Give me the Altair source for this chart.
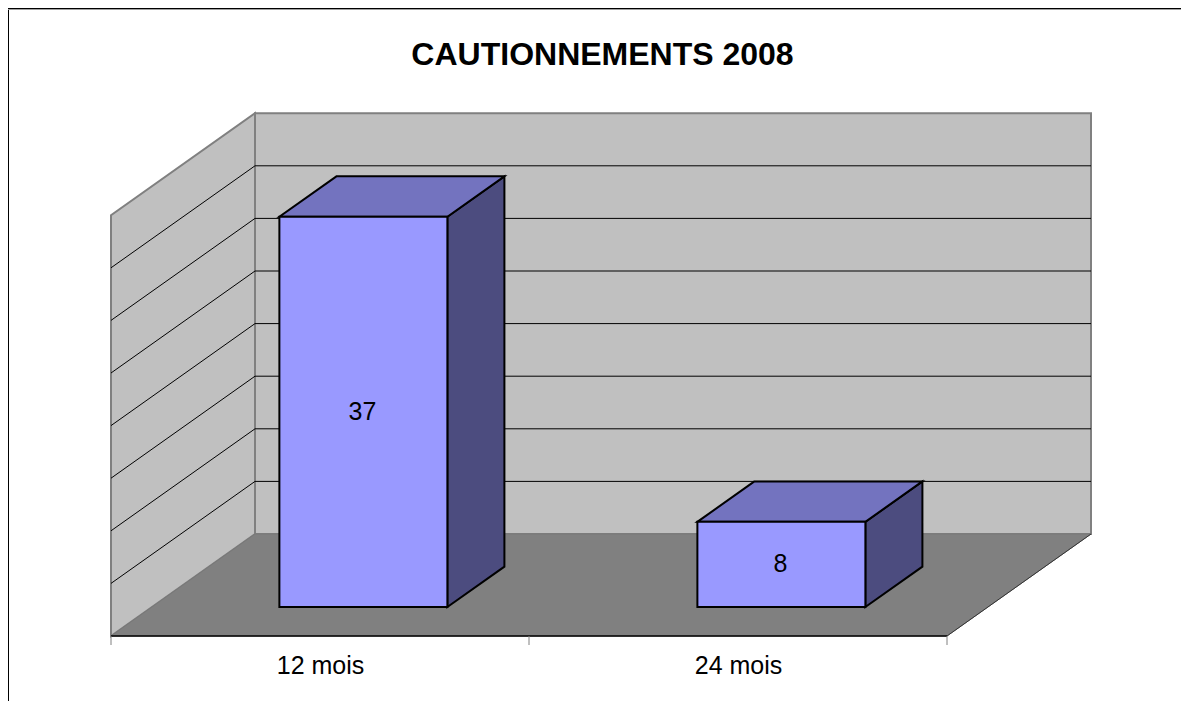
import altair as alt
import pandas as pd

# Values
categories = ["12 mois", "24 mois"]
values = [37, 8]
grid_values = [0, 5, 10, 15, 20, 25, 30, 35, 40]
category_edges = [0, 1, 2]
depth_edges = [0, 1]

# Oblique projection, in data units (categories / value units)
W, H = 1173, 693
CAT_PX, VAL_PX = 418.0, 10.52
ORIGIN_X, ORIGIN_Y = 103.0, 628.0      # where category 0 / value 0 falls in the plot
DX, DY = 144.0 / CAT_PX, 102.0 / VAL_PX   # shift of one full depth
BAR_C0, BAR_C1 = 0.3050, 0.7069        # bar extent inside its category
BAR_D0, BAR_D1 = 0.284, 0.680          # bar extent in depth
LIFT = 0.1
TICK = -9.0 / VAL_PX

xscale = alt.Scale(domain=[-ORIGIN_X / CAT_PX, (W - ORIGIN_X) / CAT_PX], nice=False, zero=False)
yscale = alt.Scale(domain=[(ORIGIN_Y - H) / VAL_PX, ORIGIN_Y / VAL_PX], nice=False, zero=False)


def X(f="x", **kw):
    return alt.X(f"{f}:Q", scale=xscale, title=None, **kw)


def Y(f="y", **kw):
    return alt.Y(f"{f}:Q", scale=yscale, title=None, stack=None, **kw)


X2 = lambda f="x2": alt.X2(f"{f}:Q")
Y2 = lambda f="y2": alt.Y2(f"{f}:Q")

c_max = category_edges[-1]
v_max = grid_values[-1]

# --- walls and floor
left_wall = pd.DataFrame([{"x": d * DX, "y": d * DY, "y2": v_max + d * DY} for d in depth_edges])
back_wall = pd.DataFrame([{"x": DX, "x2": c_max + DX, "y": DY, "y2": v_max + DY}])
floor = pd.DataFrame([{"y": d * DY, "x": d * DX, "x2": c_max + d * DX} for d in depth_edges])
grid_back = pd.DataFrame([{"x": DX, "x2": c_max + DX, "y": v + DY, "y2": v + DY} for v in grid_values[1:-1]])
grid_left = pd.DataFrame([{"x": 0, "x2": DX, "y": v, "y2": v + DY} for v in grid_values[1:-1]])
floor_edge = pd.DataFrame([{"x": c_max, "x2": c_max + DX, "y": 0, "y2": DY}])
axis_line = pd.DataFrame([{"x": 0, "x2": c_max, "y": 0, "y2": 0}])
ticks = pd.DataFrame([{"x": c, "y": 0, "y2": TICK} for c in category_edges])

# --- bars
front, top, side, labels = [], [], [], []
for i, (cat, v) in enumerate(zip(categories, values)):
    l, r = i + BAR_C0, i + BAR_C1
    base0, base1 = BAR_D0 * DY, BAR_D1 * DY
    top_front = base0 + v + LIFT
    top_back = base1 + v + LIFT
    front.append({"x": l + BAR_D0 * DX, "x2": r + BAR_D0 * DX, "y": base0, "y2": top_front})
    labels.append({"x": (l + r) / 2 + BAR_D0 * DX, "y": (base0 + top_front) / 2, "label": str(v)})
    top.append({"bar": cat, "y": top_front, "x": l + BAR_D0 * DX, "x2": r + BAR_D0 * DX})
    top.append({"bar": cat, "y": top_back, "x": l + BAR_D1 * DX, "x2": r + BAR_D1 * DX})
    side.append({"bar": cat, "x": r + BAR_D0 * DX, "y": base0, "y2": top_front})
    side.append({"bar": cat, "x": r + BAR_D1 * DX, "y": base1, "y2": top_back})
front, top, side, labels = map(pd.DataFrame, (front, top, side, labels))

FONT = "Liberation Sans"
label_axis = alt.Axis(
    values=[0.5, 1.5],
    labelExpr="datum.value < 1 ? '%s' : '%s'" % tuple(categories),
    domain=False, ticks=False, grid=False,
    offset=-(H - ORIGIN_Y), labelPadding=17,
    labelFont=FONT, labelFontSize=25, labelColor="#000000",
)

layers = [
    alt.Chart(back_wall).mark_rect(fill="#C0C0C0", stroke="#808080", strokeWidth=2).encode(
        x=X(axis=label_axis), x2=X2(), y=Y(axis=None), y2=Y2()),
    alt.Chart(left_wall).mark_area(fill="#C0C0C0", stroke="#808080", strokeWidth=2).encode(
        x=X(), y=Y(), y2=Y2()),
    alt.Chart(floor).mark_area(orient="horizontal", fill="#808080", stroke="#787878", strokeWidth=1).encode(
        y=Y(), x=X(), x2=X2()),
    alt.Chart(grid_back).mark_rule(color="#000000", strokeWidth=1).encode(x=X(), x2=X2(), y=Y(), y2=Y2()),
    alt.Chart(grid_left).mark_rule(color="#000000", strokeWidth=1).encode(x=X(), x2=X2(), y=Y(), y2=Y2()),
    alt.Chart(floor_edge).mark_rule(color="#333333", strokeWidth=1).encode(x=X(), x2=X2(), y=Y(), y2=Y2()),
    alt.Chart(axis_line).mark_rule(color="#000000", strokeWidth=1.5).encode(x=X(), x2=X2(), y=Y(), y2=Y2()),
    alt.Chart(ticks).mark_rule(color="#808080", strokeWidth=1).encode(x=X(), y=Y(), y2=Y2()),
    alt.Chart(side).mark_area(fill="#4C4C7F", stroke="#000000", strokeWidth=2, strokeJoin="miter").encode(
        x=X(), y=Y(), y2=Y2(), detail="bar:N"),
    alt.Chart(top).mark_area(orient="horizontal", fill="#7373BF", stroke="#000000", strokeWidth=2, strokeJoin="miter").encode(
        y=Y(), x=X(), x2=X2(), detail="bar:N"),
    alt.Chart(front).mark_rect(fill="#9999FF", stroke="#000000", strokeWidth=2).encode(
        x=X(), x2=X2(), y=Y(), y2=Y2()),
    alt.Chart(labels).mark_text(font=FONT, fontSize=25, color="#000000", dx=-1).encode(
        x=X(), y=Y(), text="label:N"),
    alt.Chart(axis_line).mark_rule(color="#000000", strokeWidth=2).encode(
        x=alt.value(0), y=alt.value(0), y2=alt.value(H)),
    alt.Chart(axis_line).mark_rule(color="#000000", strokeWidth=2).encode(
        y=alt.value(0), x=alt.value(0), x2=alt.value(W)),
    alt.Chart(axis_line).mark_rule(color="#A0A0A0", strokeWidth=1).encode(
        y=alt.value(1.5), x=alt.value(0), x2=alt.value(W)),
]

chart = (
    alt.layer(*layers)
    .properties(
        width=W, height=H,
        autosize=alt.AutoSizeParams(type="none"),
        padding=0,
        background="#FFFFFF",
        title=alt.TitleParams(
            "CAUTIONNEMENTS 2008", anchor="middle", font=FONT, fontSize=32,
            fontWeight="bold", color="#000000", dx=8, dy=65, offset=0,
        ),
    )
    .configure_view(stroke=None)
)

chart.save("out.html", embed_options={"renderer": "svg", "actions": False})
